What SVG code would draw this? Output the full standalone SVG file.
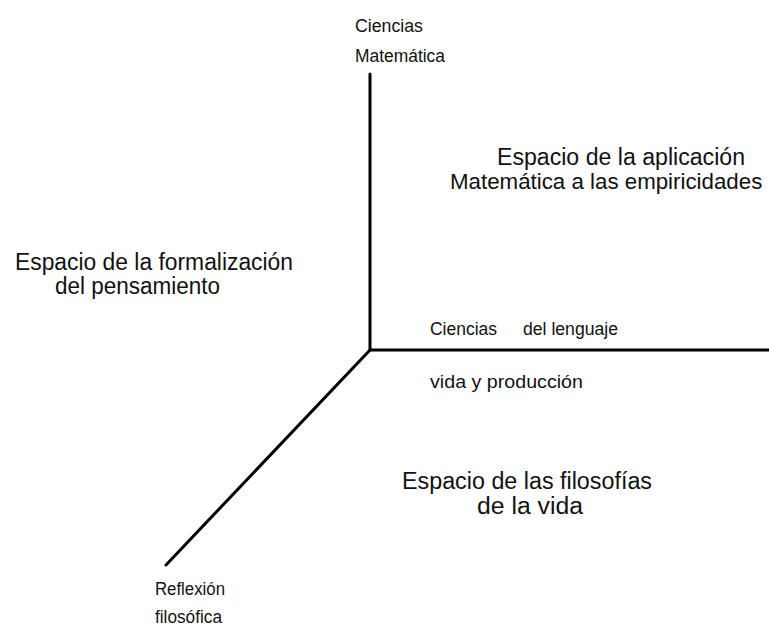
<svg xmlns="http://www.w3.org/2000/svg" width="769" height="626" viewBox="0 0 769 626">
  <style>
    .axis { stroke: #000; stroke-width: 3; fill: none; stroke-linecap: round; }
    .small { font-family: "Liberation Sans", Arial, sans-serif; font-size: 17.5px; fill: #111; }
    .big { font-family: "Liberation Sans", Arial, sans-serif; font-size: 23px; fill: #111; }
  </style>
  <rect width="769" height="626" fill="#fff"/>
  <g id="connectors">
    <line class="axis" x1="370" y1="74" x2="370" y2="350"/>
    <line class="axis" x1="370" y1="350" x2="772" y2="350"/>
    <line class="axis" x1="370" y1="350" x2="166" y2="565"/>
  </g>
  <g id="axis-top">
    <text class="small" x="355" y="32" textLength="68" lengthAdjust="spacingAndGlyphs">Ciencias</text>
    <text class="small" x="355" y="62" textLength="90" lengthAdjust="spacingAndGlyphs">Matemática</text>
  </g>
  <g id="axis-right">
    <text class="small" x="430" y="335" textLength="67" lengthAdjust="spacingAndGlyphs">Ciencias</text>
    <text class="small" x="523" y="335" textLength="95" lengthAdjust="spacingAndGlyphs">del lenguaje</text>
    <text class="small" x="430" y="388" textLength="153" lengthAdjust="spacingAndGlyphs">vida y producción</text>
  </g>
  <g id="axis-bottom">
    <text class="small" x="155" y="595" textLength="70" lengthAdjust="spacingAndGlyphs">Reflexión</text>
    <text class="small" x="155" y="623" textLength="67" lengthAdjust="spacingAndGlyphs">filosófica</text>
  </g>
  <g id="space-application">
    <text class="big" x="497" y="165" textLength="248" lengthAdjust="spacingAndGlyphs">Espacio de la aplicación</text>
    <text class="big" x="450" y="189" style="font-size:22.3px">Matemática a las empiricidades</text>
  </g>
  <g id="space-formalization">
    <text class="big" x="15" y="270" textLength="278" lengthAdjust="spacingAndGlyphs">Espacio de la formalización</text>
    <text class="big" x="55" y="294" textLength="165" lengthAdjust="spacingAndGlyphs">del pensamiento</text>
  </g>
  <g id="space-life">
    <text class="big" x="402" y="489" textLength="250" lengthAdjust="spacingAndGlyphs">Espacio de las filosofías</text>
    <text class="big" x="477" y="514" textLength="106" lengthAdjust="spacingAndGlyphs">de la vida</text>
  </g>
</svg>
